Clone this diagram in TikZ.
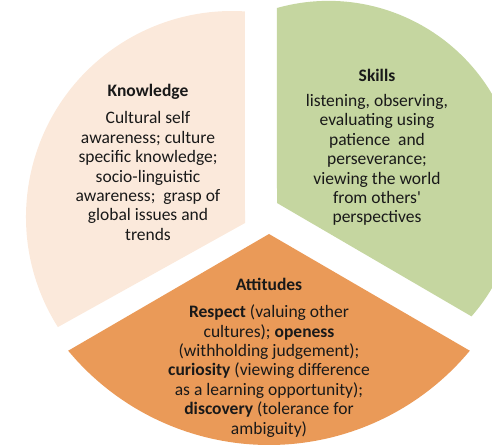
\documentclass[tikz,border=0pt]{standalone}
\usepackage{fontspec}
\setmainfont{Carlito}[Ligatures=TeXOff]
\definecolor{peach}{rgb}{0.984,0.914,0.859}
\definecolor{sage}{rgb}{0.773,0.839,0.627}
\definecolor{apricot}{rgb}{0.918,0.604,0.345}
\definecolor{ink}{rgb}{0.1,0.1,0.1}

\begin{document}
\begin{tikzpicture}[line cap=round,line join=round,x=1pt,y=1pt,
  title/.style={font=\fontsize{17.5}{19.4}\selectfont\bfseries,color=ink,inner sep=0pt},
  body/.style={font=\fontsize{17.5}{19.4}\selectfont,color=ink,align=center,inner sep=0pt}]
\useasboundingbox (0,0) rectangle (492,447);
\clip (0,0) rectangle (492,447);
% pie pieces
\fill[color=peach] (245,224) -- ([shift={(232,230)}]212.3:206) arc[start angle=212.3,end angle=86.4,radius=206] -- cycle;
\fill[color=sage] (277,244) -- ([shift={(328.4,255.9)}]105.7:190.2) arc[start angle=105.7,end angle=-41.2,radius=190.2] -- cycle;
\fill[color=apricot] (269,213) -- ([shift={(269,263)}]219.7:261) arc[start angle=219.7,end angle=320.3,radius=261] -- cycle;
% texts
\node[title] (know) at (148,355) {Knowledge};
\node[body] (knowtext) at (148,271) {Cultural self\\ awareness; culture\\ specific knowledge;\\ socio-linguistic\\ awareness;\ \ grasp of\\ global issues and\\ trends};
\node[title] (skill) at (377,372) {Skills};
\node[body] (skilltext) at (377,287) {listening, observing,\\ evaluating using\\ patience\ \ and\\ perseverance;\\ viewing the world\\ from others'\\ perspectives};
\node[title] (attit) at (269,163) {Attitudes};
\node[body] (attittext) at (269,76) {\textbf{Respect} (valuing other\\ cultures); \textbf{openess}\\ (withholding judgement);\\ \textbf{curiosity} (viewing difference\\ as a learning opportunity);\\ \textbf{discovery} (tolerance for\\ ambiguity)};
\end{tikzpicture}
\end{document}
